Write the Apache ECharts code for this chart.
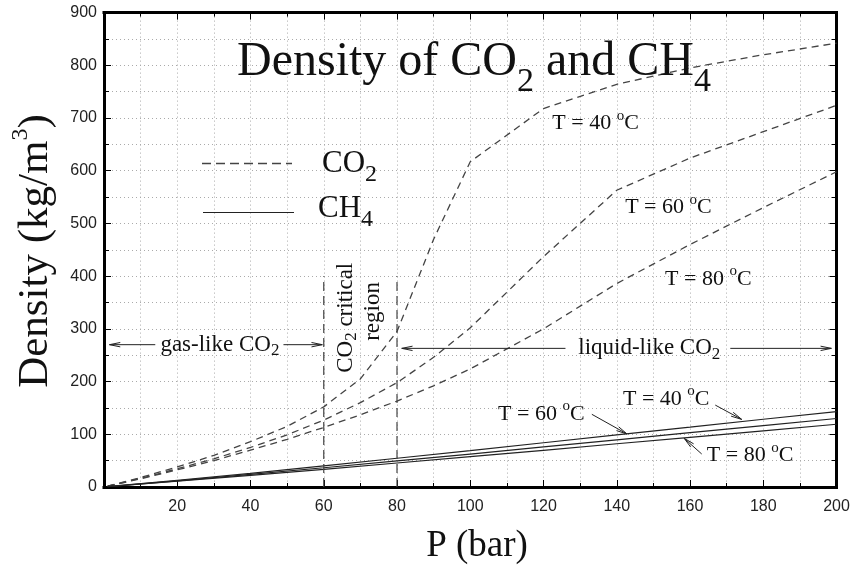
<!DOCTYPE html>
<html>
<head>
<meta charset="utf-8">
<script src="https://cdn.jsdelivr.net/npm/echarts@6/dist/echarts.min.js"></script>
<style>
  html, body { margin: 0; padding: 0; background: #fff; }
  #chart { width: 855px; height: 569px; }
</style>
</head>
<body>
<div id="chart"></div>
<script>
// CO2 density (kg/m3) vs pressure (bar)
const pressure = [1, 10, 20, 30, 40, 50, 60, 70, 80, 90, 100, 120, 140, 160, 180, 200];
const co2At40 = [1.7, 18, 38, 60, 86, 115, 152, 205, 295, 470, 617, 718, 764, 795, 820, 842];
const co2At60 = [1.6, 16.5, 34.5, 53.5, 75, 99, 127, 160, 198, 246, 302, 437, 563, 624, 674, 724];
const co2At80 = [1.5, 15.5, 32.5, 50, 70, 90.5, 113, 137, 163, 192, 224, 300, 386, 460, 530, 598];

// CH4 density
const ch4Pressure = [1, 20, 40, 60, 80, 100, 120, 140, 160, 180, 200];
const ch4At40 = [0.6, 12.8, 26, 40, 54.5, 69, 84, 99, 113.5, 128.5, 143];
const ch4At60 = [0.6, 11.8, 24, 36.5, 49.5, 62.5, 76, 89.5, 103, 116.5, 130];
const ch4At80 = [0.5, 11, 22, 33.5, 45.5, 57.5, 69.5, 82, 94, 106.5, 119];

// critical region bounds (bar) and its marker height
const criticalBounds = [60, 80];
const criticalTop = 400;

const serif = 'Liberation Serif';
const sans = 'Liberation Sans';

function pairs (xs, ys) {
  return xs.map(function (x, i) { return [x, ys[i]]; });
}

const co2Style = { color: '#444', width: 1.3, type: [7, 5] };
const ch4Style = { color: '#222', width: 1.2, type: 'solid' };

function mkSeries (name, xs, ys, style) {
  return {
    name: name,
    type: 'line',
    data: pairs(xs, ys),
    symbol: 'none',
    smooth: false,
    lineStyle: style,
    z: 3
  };
}

const tickStyle = { color: '#000', width: 1 };
const gridDots = { color: '#aaa', width: 1, type: [1, 3] };

function xAxisCfg (pos) {
  return {
    type: 'value', position: pos, min: 0, max: 200, interval: 20,
    axisLine: { show: true, onZero: false, lineStyle: { color: '#000', width: 3, cap: 'square' } },
    axisTick: { show: true, inside: true, length: 7, lineStyle: tickStyle },
    minorTick: { show: true, splitNumber: 2, length: 4, lineStyle: tickStyle },
    axisLabel: {
      show: pos === 'bottom', margin: 12, fontSize: 16, fontFamily: sans, color: '#222',
      formatter: function (v) { return v === 0 ? '' : String(v); }
    },
    splitLine: { show: pos === 'bottom', lineStyle: gridDots },
    minorSplitLine: { show: pos === 'bottom', lineStyle: gridDots }
  };
}

function yAxisCfg (pos) {
  return {
    type: 'value', position: pos, min: 0, max: 900, interval: 100,
    axisLine: { show: true, onZero: false, lineStyle: { color: '#000', width: 3, cap: 'square' } },
    axisTick: { show: true, inside: true, length: 7, lineStyle: tickStyle },
    minorTick: { show: true, splitNumber: 2, length: 5, lineStyle: tickStyle },
    axisLabel: { show: pos === 'left', margin: 7, fontSize: 16, fontFamily: sans, color: '#222' },
    splitLine: { show: pos === 'left', lineStyle: gridDots },
    minorSplitLine: { show: pos === 'left', lineStyle: gridDots }
  };
}

const chart = echarts.init(document.getElementById('chart'));
chart.setOption({
  animation: false,
  backgroundColor: '#fff',
  grid: { left: 104, right: 18.5, top: 12.6, bottom: 82 },
  xAxis: [xAxisCfg('bottom'), xAxisCfg('top')],
  yAxis: [yAxisCfg('left'), yAxisCfg('right')],
  series: [
    mkSeries('CO2 40', pressure, co2At40, co2Style),
    mkSeries('CO2 60', pressure, co2At60, co2Style),
    mkSeries('CO2 80', pressure, co2At80, co2Style),
    mkSeries('CH4 40', ch4Pressure, ch4At40, ch4Style),
    mkSeries('CH4 60', ch4Pressure, ch4At60, ch4Style),
    mkSeries('CH4 80', ch4Pressure, ch4At80, ch4Style)
  ]
});

function px (p, v) {
  return chart.convertToPixel({ xAxisIndex: 0, yAxisIndex: 0 }, [p, v]);
}

// rich text helpers: n = normal, s = subscript, o = superscript
function richSet (size, subSize, subShift, supSize, supShift) {
  return {
    n: { fontSize: size, fontFamily: serif, fill: '#111' },
    s: { fontSize: subSize, fontFamily: serif, fill: '#111', padding: [subShift * 2, 0, 0, 0] },
    o: { fontSize: supSize || subSize, fontFamily: serif, fill: '#111', padding: [0, 0, (supShift || 0) * 2, 0] }
  };
}

function label (text, x, y, rich, align, rotation) {
  return {
    type: 'text', x: x, y: y, rotation: rotation || 0, z: 10,
    style: { text: text, rich: rich, align: align || 'left', verticalAlign: 'middle', fill: '#111' }
  };
}

function seg (a, b, style) {
  return {
    type: 'line', z: 9,
    shape: { x1: a[0], y1: a[1], x2: b[0], y2: b[1] },
    style: Object.assign({ stroke: '#222', lineWidth: 1 }, style || {})
  };
}

function arrow (from, to) {
  const ang = Math.atan2(to[1] - from[1], to[0] - from[0]);
  const len = 11, spread = 0.2;
  const h1 = [to[0] - len * Math.cos(ang - spread), to[1] - len * Math.sin(ang - spread)];
  const h2 = [to[0] - len * Math.cos(ang + spread), to[1] - len * Math.sin(ang + spread)];
  return [
    seg(from, to),
    { type: 'polyline', z: 9, shape: { points: [h1, to, h2] }, style: { stroke: '#222', lineWidth: 1, fill: null } }
  ];
}

const tRich = richSet(22, 15, 0, 15, 7.5);
const midRich = richSet(23, 17, 6);
const g = [];

// title and legend
g.push(label('{n|Density of CO}{s|2}{n| and CH}{s|4}', 237, 62, richSet(48, 34, 20)));
g.push(seg([202, 163.5], [292, 163.5], { stroke: '#444', lineWidth: 1.3, lineDash: [9, 5] }));
g.push(seg([203, 212.5], [294, 212.5], { stroke: '#222', lineWidth: 1.2 }));
g.push(label('{n|CO}{s|2}', 322, 164, richSet(31, 24, 11)));
g.push(label('{n|CH}{s|4}', 318, 209, richSet(31, 24, 11)));

// axis names
g.push(label('{n|P (bar)}', 477, 546, richSet(37, 26, 0), 'center'));
g.push(label('{n|Density (kg/m}{o|3}{n|)}', 36, 251, richSet(43, 24, 0, 24, 15.5), 'center', Math.PI / 2));

// critical region markers
criticalBounds.forEach(function (p) {
  g.push(seg(px(p, 0), px(p, criticalTop), { stroke: '#444', lineWidth: 1.2, lineDash: [9, 5] }));
});
let c1 = px(66, 321), c2 = px(73.3, 333);
g.push(label('{n|CO}{s|2}{n| critical}', c1[0], c1[1], midRich, 'center', Math.PI / 2));
g.push(label('{n|region}', c2[0], c2[1], midRich, 'center', Math.PI / 2));

// gas-like / liquid-like arrows
g.push.apply(g, arrow(px(14, 270), px(1.5, 270)));
g.push.apply(g, arrow(px(49, 270), px(59.6, 270)));
let gl = px(15.4, 270);
g.push(label('{n|gas-like CO}{s|2}', gl[0], gl[1], midRich));
g.push.apply(g, arrow(px(126, 263), px(81.3, 263)));
g.push.apply(g, arrow(px(171, 263), px(198.6, 263)));
let ll = px(129.5, 263);
g.push(label('{n|liquid-like CO}{s|2}', ll[0], ll[1], midRich));

// temperature labels for CO2 curves
[[122.4, 690, '40'], [142.3, 530, '60'], [153.2, 395, '80']].forEach(function (t) {
  const p = px(t[0], t[1]);
  g.push(label('{n|T = ' + t[2] + ' }{o|o}{n|C}', p[0], p[1], tRich));
});

// temperature labels and pointers for CH4 lines
[[141.7, 167, '40'], [107.6, 138.5, '60'], [164.6, 60, '80']].forEach(function (t) {
  const p = px(t[0], t[1]);
  g.push(label('{n|T = ' + t[2] + ' }{o|o}{n|C}', p[0], p[1], tRich));
});
g.push.apply(g, arrow(px(166.9, 155.4), px(174.1, 128.3)));
g.push.apply(g, arrow(px(133.2, 137.9), px(142.8, 100.6)));
g.push.apply(g, arrow(px(163.2, 62.6), px(158.4, 92.4)));

chart.setOption({ graphic: g });
</script>
</body>
</html>
